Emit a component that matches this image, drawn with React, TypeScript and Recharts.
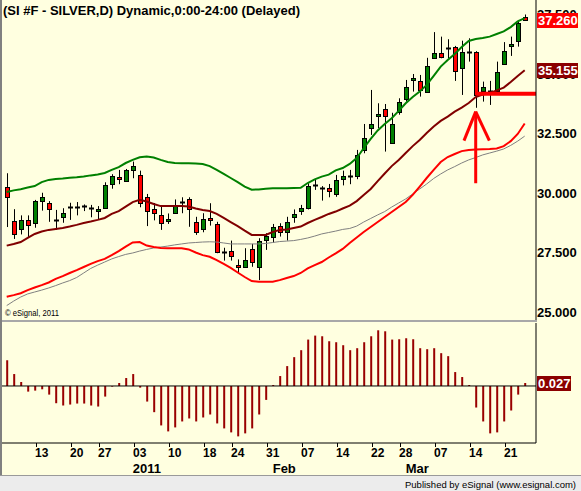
import React from "react";
import { Bar, ComposedChart, Line, ReferenceLine, XAxis, YAxis } from "recharts";

const FONT = "'Liberation Sans', Arial, sans-serif";
const BG = "#FFFFE0";

// SI #F daily, 06 Dec 2010 - 23 Mar 2011
const opens = [
  30.24, 28.82, 28.5, 28.87, 28.73, 29.65, 29.57, 28.84, 28.98, 29.4,
  29.4, 29.38, 29.37, 29.25, 29.34, 30.39, 30.66, 30.52, 30.97, 30.74,
  29.85, 29.34, 29.06, 28.81, 29.17, 29.59, 29.73, 28.78, 28.52, 28.94,
  28.68, 27.52, 27.56, 26.97, 26.9, 27.66, 26.9, 28.01, 28.14, 28.61,
  28.37, 28.98, 29.23, 29.38, 30.31, 30.17, 30.21, 29.95, 30.6, 30.7,
  30.68, 31.78, 32.72, 33.22, 33.52, 32.11, 33.37, 33.92, 34.72, 34.71,
  34.26, 35.66, 35.89, 36.04, 36.12, 35.24, 35.9, 35.94, 34.3, 34.25,
  34.3, 35.42, 36.18, 36.4, 37.38,
];
const highs = [
  30.83, 29.32, 29.06, 29.06, 29.71, 30.01, 29.66, 29.29, 29.36, 29.59,
  29.62, 29.52, 29.5, 29.45, 30.45, 30.79, 30.97, 31.01, 31.32, 30.94,
  29.96, 29.58, 29.45, 29.14, 29.73, 29.82, 29.82, 29.0, 29.15, 29.57,
  28.79, 27.7, 28.0, 27.21, 27.68, 27.86, 28.1, 28.31, 28.7, 28.73,
  29.0, 29.31, 29.5, 30.41, 30.55, 30.29, 30.38, 30.76, 30.94, 30.97,
  31.81, 32.9, 34.33, 33.77, 33.74, 33.37, 33.98, 34.75, 35.0, 34.96,
  35.68, 36.76, 36.57, 36.46, 36.18, 36.4, 36.5, 35.96, 34.68, 34.71,
  35.52, 36.34, 36.57, 37.27, 37.5,
];
const lows = [
  28.57, 28.07, 28.26, 28.14, 28.54, 29.26, 28.79, 28.45, 28.75, 28.87,
  29.06, 29.24, 28.98, 28.87, 29.34, 30.18, 30.37, 30.52, 30.62, 29.4,
  28.61, 28.85, 28.45, 28.7, 29.13, 29.15, 28.58, 28.24, 28.35, 28.63,
  27.47, 27.16, 27.16, 26.63, 26.9, 26.9, 26.34, 27.61, 27.91, 28.17,
  28.0, 28.75, 29.08, 29.31, 30.13, 29.68, 29.82, 29.84, 30.32, 30.37,
  30.58, 31.67, 32.44, 32.72, 31.74, 32.09, 33.29, 33.84, 34.26, 34.05,
  34.26, 35.66, 35.66, 35.66, 34.71, 34.12, 35.52, 33.58, 33.84, 33.7,
  34.19, 35.38, 35.76, 36.15, 37.24,
];
const closes = [
  29.84, 28.29, 28.87, 28.68, 29.66, 29.82, 29.31, 28.86, 29.15, 29.42,
  29.42, 29.44, 29.39, 29.32, 30.32, 30.71, 30.56, 30.97, 31.13, 29.57,
  29.27, 29.19, 28.73, 28.91, 29.5, 29.61, 29.33, 28.37, 28.92, 28.84,
  27.52, 27.54, 27.37, 26.88, 27.18, 27.1, 27.98, 28.19, 28.58, 28.35,
  28.77, 29.11, 29.37, 30.29, 30.33, 30.22, 30.08, 30.55, 30.71, 30.73,
  31.58, 32.29, 32.89, 33.31, 33.21, 32.89, 33.81, 34.44, 34.82, 34.33,
  35.34, 35.89, 35.71, 36.08, 35.13, 35.91, 35.93, 34.12, 34.47, 34.29,
  35.08, 35.98, 36.26, 37.16, 37.26,
];

const upperBand = [
  30.04, 30.11, 30.16, 30.23, 30.29, 30.46, 30.55, 30.59, 30.61, 30.64,
  30.66, 30.69, 30.74, 30.78, 30.84, 30.97, 31.09, 31.26, 31.39, 31.5,
  31.53, 31.49, 31.39, 31.3, 31.26, 31.25, 31.25, 31.24, 31.22, 31.13,
  30.97, 30.8, 30.63, 30.46, 30.27, 30.14, 30.15, 30.18, 30.2, 30.2,
  30.2, 30.21, 30.22, 30.42, 30.57, 30.69, 30.77, 30.95, 31.05, 31.22,
  31.47, 31.88, 32.27, 32.63, 32.9, 33.14, 33.45, 33.77, 34.03, 34.26,
  34.54, 34.92, 35.31, 35.59, 35.84, 36.13, 36.39, 36.47, 36.51, 36.57,
  36.68, 36.79, 36.97, 37.21, 37.35,
];
const midLine = [
  27.79, 27.86, 27.94, 28.11, 28.28, 28.38, 28.45, 28.49, 28.53, 28.59,
  28.66, 28.74, 28.8, 28.87, 28.95, 29.12, 29.24, 29.43, 29.62, 29.71,
  29.64, 29.54, 29.45, 29.45, 29.45, 29.45, 29.43, 29.35, 29.29, 29.24,
  29.12, 28.95, 28.78, 28.61, 28.42, 28.24, 28.24, 28.24, 28.36, 28.45,
  28.47, 28.53, 28.59, 28.74, 28.87, 28.99, 29.12, 29.22, 29.35, 29.47,
  29.66, 29.92, 30.17, 30.5, 30.82, 31.13, 31.39, 31.68, 31.97, 32.23,
  32.52, 32.79, 33.03, 33.21, 33.42, 33.59, 33.78, 34.03, 34.14, 34.19,
  34.31, 34.43, 34.66, 34.92, 35.155,
];
const lowerBand = [
  25.64, 25.71, 25.79, 25.92, 26.03, 26.13, 26.24, 26.39, 26.51, 26.64,
  26.76, 26.89, 27.02, 27.14, 27.23, 27.39, 27.56, 27.75, 27.92, 27.94,
  27.79, 27.73, 27.69, 27.68, 27.68, 27.68, 27.63, 27.5, 27.39, 27.32,
  27.18, 27.02, 26.85, 26.66, 26.47, 26.3, 26.27, 26.27, 26.27, 26.34,
  26.43, 26.51, 26.64, 26.83, 26.97, 27.1, 27.29, 27.46, 27.65, 27.9,
  28.13, 28.36, 28.57, 28.78, 28.99, 29.2, 29.41, 29.62, 29.92, 30.27,
  30.63, 30.97, 31.3, 31.51, 31.64, 31.76, 31.81, 31.83, 31.84, 31.85,
  31.87, 31.97, 32.18, 32.48, 32.92,
];
const slowAvg = [
  25.27, 25.46, 25.63, 25.76, 25.84, 25.92, 26.01, 26.11, 26.22, 26.32,
  26.45, 26.64, 26.83, 26.97, 27.1, 27.23, 27.33, 27.42, 27.48, 27.56,
  27.63, 27.69, 27.73, 27.77, 27.82, 27.86, 27.9, 27.92, 27.94, 27.95,
  27.94, 27.9, 27.86, 27.86, 27.86, 27.86, 27.86, 27.88, 27.92, 27.96,
  27.98, 28.0, 28.05, 28.11, 28.19, 28.28, 28.34, 28.4, 28.47, 28.51,
  28.61, 28.78, 28.93, 29.08, 29.22, 29.41, 29.58, 29.75, 29.96, 30.17,
  30.38, 30.61, 30.8, 30.97, 31.11, 31.26, 31.39, 31.49, 31.6, 31.68,
  31.76, 31.85, 32.0, 32.18, 32.39,
];
const oscillator = [
  0.234, 0.108, 0.036, -0.051, -0.042, -0.03, -0.078, -0.156, -0.177, -0.168,
  -0.159, -0.159, -0.177, -0.186, -0.096, -0.006, 0.027, 0.072, 0.108, -0.015,
  -0.141, -0.237, -0.357, -0.411, -0.375, -0.321, -0.294, -0.321, -0.285, -0.258,
  -0.339, -0.384, -0.42, -0.456, -0.429, -0.384, -0.258, -0.126, 0.009, 0.09,
  0.18, 0.261, 0.324, 0.42, 0.456, 0.45, 0.405, 0.396, 0.369, 0.324,
  0.342, 0.396, 0.45, 0.504, 0.495, 0.42, 0.423, 0.432, 0.423, 0.342,
  0.333, 0.342, 0.297, 0.27, 0.126, 0.081, 0.009, -0.195, -0.321, -0.429,
  -0.42, -0.321, -0.222, -0.078, 0.027,
];

const dayTicks = [5, 10, 14, 19, 24, 29, 33, 38, 43, 48, 53, 57, 62, 67, 72];
const dayLabels = ["13", "20", "27", "03", "10", "18", "24", "31", "07", "14", "22", "28", "07", "14", "21"];
const monthTicks = [18, 38, 57];
const monthLabels = ["2011", "Feb", "Mar"];
const priceTicks = [25, 27.5, 30, 32.5];
// these two sit under the price tags, drawn before them so the tags cover them
const coveredTicks = [35, 37.5];

// hand drawn annotation (support level + arrow), in data units
const supportLevel = 34.17;
const supportFrom = 67;
const arrowX = 67;
const arrowTip = 33.42;
const arrowTail = 30.41;
const arrowHeadY = 32.2;
const arrowHeadL = 65.33;
const arrowHeadR = 68.95;

const X_DOMAIN: [number, number] = [-0.671, 75.614];
const PRICE_DOMAIN: [number, number] = [24.664, 38.109];
const OSC_DOMAIN: [number, number] = [-0.516, 0.57];

const rows = opens.map((o, i) => ({
  i,
  open: o,
  high: highs[i],
  low: lows[i],
  close: closes[i],
  upper: upperBand[i],
  mid: midLine[i],
  lower: lowerBand[i],
  slow: slowAvg[i],
  osc: oscillator[i],
}));

const last = rows.length - 1;

function Candle(props: any) {
  const { x, y, width, height, payload } = props;
  if (!payload || x == null) return null;
  const { open, close, high, low } = payload;
  const top = Math.min(y, y + height);
  const h = Math.abs(height);
  const py = (v: number) => top + ((high - v) / (high - low || 1)) * h;
  const cx = Math.round(x + width / 2) + 0.5;
  const bTop = py(Math.max(open, close));
  const bBot = py(Math.min(open, close));
  const up = close >= open;
  const flat = bBot - bTop < 1.5;
  return (
    <g>
      <line x1={cx} x2={cx} y1={top} y2={top + h} stroke="#000" strokeWidth={1} />
      {flat ? (
        <line x1={cx - 2.5} x2={cx + 2.5} y1={Math.round(bTop) + 0.5} y2={Math.round(bTop) + 0.5} stroke="#000" strokeWidth={2} />
      ) : (
        <rect
          x={cx - 2}
          y={Math.round(bTop) + 0.5}
          width={4}
          height={Math.max(1, Math.round(bBot - bTop))}
          fill={up ? "#008000" : "#FF0000"}
          stroke="#000"
          strokeWidth={1}
        />
      )}
    </g>
  );
}

function tag(text: string, fill: string, w: number) {
  return (p: any) => {
    const vb = p.viewBox || {};
    const x = (vb.x || 0) + (vb.width || 0) + 1;
    const y = Math.round(vb.y || 0);
    return (
      <g>
        <rect x={x} y={y - 7} width={w} height={15} fill={fill} />
        <text x={x + 1} y={y + 5} fill="#fff" fontSize={13} fontWeight={700} fontFamily={FONT}>
          {text}
        </text>
      </g>
    );
  };
}

function axisText(text: string) {
  return (p: any) => {
    const vb = p.viewBox || {};
    const x = (vb.x || 0) + (vb.width || 0) + 1;
    const y = vb.y || 0;
    return (
      <text x={x} y={y + 4.6} fill="#000" fontSize={13} fontWeight={700} fontFamily={FONT}>
        {text}
      </text>
    );
  };
}

function DayTick(p: any) {
  const { x, y, payload } = p;
  const k = dayTicks.indexOf(payload.value);
  return (
    <g>
      <line x1={Math.round(x) - 5.5} x2={Math.round(x) - 5.5} y1={y} y2={y + 4} stroke="#000" />
      <text x={x} y={y + 13.5} textAnchor="middle" fontSize={12} fontWeight={700} fontFamily={FONT} fill="#000">
        {dayLabels[k]}
      </text>
    </g>
  );
}

function MonthTick(p: any) {
  const { x, y, payload } = p;
  const k = monthTicks.indexOf(payload.value);
  return (
    <text x={x} y={y + 12.5} textAnchor="start" fontSize={13} fontWeight={700} fontFamily={FONT} fill="#000">
      {monthLabels[k]}
    </text>
  );
}

export default function App() {
  return (
    <div style={{ position: "absolute", left: 0, top: 0, width: 581, height: 491, background: BG, overflow: "hidden", fontFamily: FONT }}>
      <div style={{ position: "absolute", left: 0, top: 0 }}>
        <ComposedChart width={581} height={320} data={rows} margin={{ top: 0, right: 0, bottom: 0, left: 2 }}>
          <XAxis dataKey="i" type="number" domain={X_DOMAIN} allowDataOverflow hide />
          <YAxis
            orientation="right"
            width={45}
            domain={PRICE_DOMAIN}
            allowDataOverflow
            ticks={priceTicks}
            interval={0}
            tickFormatter={(v: number) => v.toFixed(3)}
            tickLine={false}
            tickSize={0}
            tickMargin={1}
            axisLine={{ stroke: "#000" }}
            tick={{ fontSize: 13, fontWeight: 700, fill: "#000", fontFamily: FONT }}
          />
          <Line dataKey="slow" stroke="#808080" strokeWidth={1} dot={false} isAnimationActive={false} />
          <Line dataKey="lower" stroke="#FF0000" strokeWidth={2} dot={false} isAnimationActive={false} />
          <Line dataKey="mid" stroke="#800000" strokeWidth={2} dot={false} isAnimationActive={false} />
          <Line dataKey="upper" stroke="#008000" strokeWidth={2} dot={false} isAnimationActive={false} />
          <ReferenceLine
            segment={[{ x: supportFrom, y: supportLevel }, { x: X_DOMAIN[1], y: supportLevel }]}
            stroke="#FF0000"
            strokeWidth={4}
            ifOverflow="visible"
          />
          <Bar dataKey={(d: any) => [d.low, d.high]} barSize={5} shape={<Candle />} isAnimationActive={false} />
          <ReferenceLine segment={[{ x: arrowX, y: arrowTail }, { x: arrowX, y: arrowTip }]} stroke="#FF0000" strokeWidth={3} ifOverflow="visible" />
          <ReferenceLine segment={[{ x: arrowHeadL, y: arrowHeadY }, { x: arrowX, y: arrowTip }]} stroke="#FF0000" strokeWidth={3} ifOverflow="visible" />
          <ReferenceLine segment={[{ x: arrowHeadR, y: arrowHeadY }, { x: arrowX, y: arrowTip }]} stroke="#FF0000" strokeWidth={3} ifOverflow="visible" />
          {coveredTicks.map((v) => (
            <ReferenceLine key={v} y={v} stroke="none" ifOverflow="visible" label={axisText(v.toFixed(3))} />
          ))}
          <ReferenceLine y={midLine[last]} stroke="none" ifOverflow="visible" label={tag(midLine[last].toFixed(3), "#8B0000", 41)} />
          <ReferenceLine y={closes[last]} stroke="none" ifOverflow="visible" label={tag(closes[last].toFixed(3), "#FF0000", 41)} />
        </ComposedChart>
      </div>
      <div style={{ position: "absolute", left: 0, top: 320, width: 537, height: 2, background: "#A8A8A8" }} />
      <div style={{ position: "absolute", left: 0, top: 320 }}>
        <ComposedChart width={581} height={160} data={rows} margin={{ top: 3, right: 0, bottom: 0, left: 2 }}>
          <XAxis
            dataKey="i"
            type="number"
            domain={X_DOMAIN}
            allowDataOverflow
            ticks={dayTicks}
            interval={0}
            height={17}
            tickLine={false}
            tickSize={0}
            tickMargin={0}
            axisLine={{ stroke: "#000" }}
            tick={<DayTick />}
          />
          <XAxis
            xAxisId="month"
            dataKey="i"
            type="number"
            domain={X_DOMAIN}
            allowDataOverflow
            ticks={monthTicks}
            interval={0}
            height={20}
            tickLine={false}
            tickSize={0}
            tickMargin={0}
            axisLine={false}
            tick={<MonthTick />}
          />
          <YAxis orientation="right" width={45} domain={OSC_DOMAIN} allowDataOverflow tick={false} tickLine={false} axisLine={{ stroke: "#000" }} />
          <ReferenceLine y={0} stroke="#000" strokeWidth={1} />
          <Bar dataKey="osc" barSize={2} fill="#990000" isAnimationActive={false} />
          <Line xAxisId="month" dataKey="osc" stroke="none" dot={false} activeDot={false} isAnimationActive={false} />
          <ReferenceLine y={oscillator[last]} stroke="none" ifOverflow="visible" label={tag(oscillator[last].toFixed(3), "#8B0000", 34)} />
        </ComposedChart>
      </div>
      <div style={{ position: "absolute", left: 0, top: 0, width: 2, height: 476, background: "#808080" }} />
      <div style={{ position: "absolute", left: 0, top: 475, width: 581, height: 16, background: "#ECECEC", borderTop: "1px solid #9A9A9A" }} />
      <svg width={581} height={491} style={{ position: "absolute", left: 0, top: 0, pointerEvents: "none" }}>
        <text x={3} y={15} fontSize={12} fontWeight={700} fontFamily={FONT} fill="#000" textLength={297} lengthAdjust="spacingAndGlyphs">
          (SI #F - SILVER,D) Dynamic,0:00-24:00 (Delayed)
        </text>
        <text x={5} y={316} fontSize={9} fontFamily={FONT} fill="#000" textLength={54} lengthAdjust="spacingAndGlyphs">
          © eSignal, 2011
        </text>
        <text x={405} y={487.5} fontSize={9.5} fontFamily={FONT} fill="#000" textLength={171} lengthAdjust="spacingAndGlyphs">
          Published by eSignal (www.esignal.com)
        </text>
      </svg>
    </div>
  );
}
